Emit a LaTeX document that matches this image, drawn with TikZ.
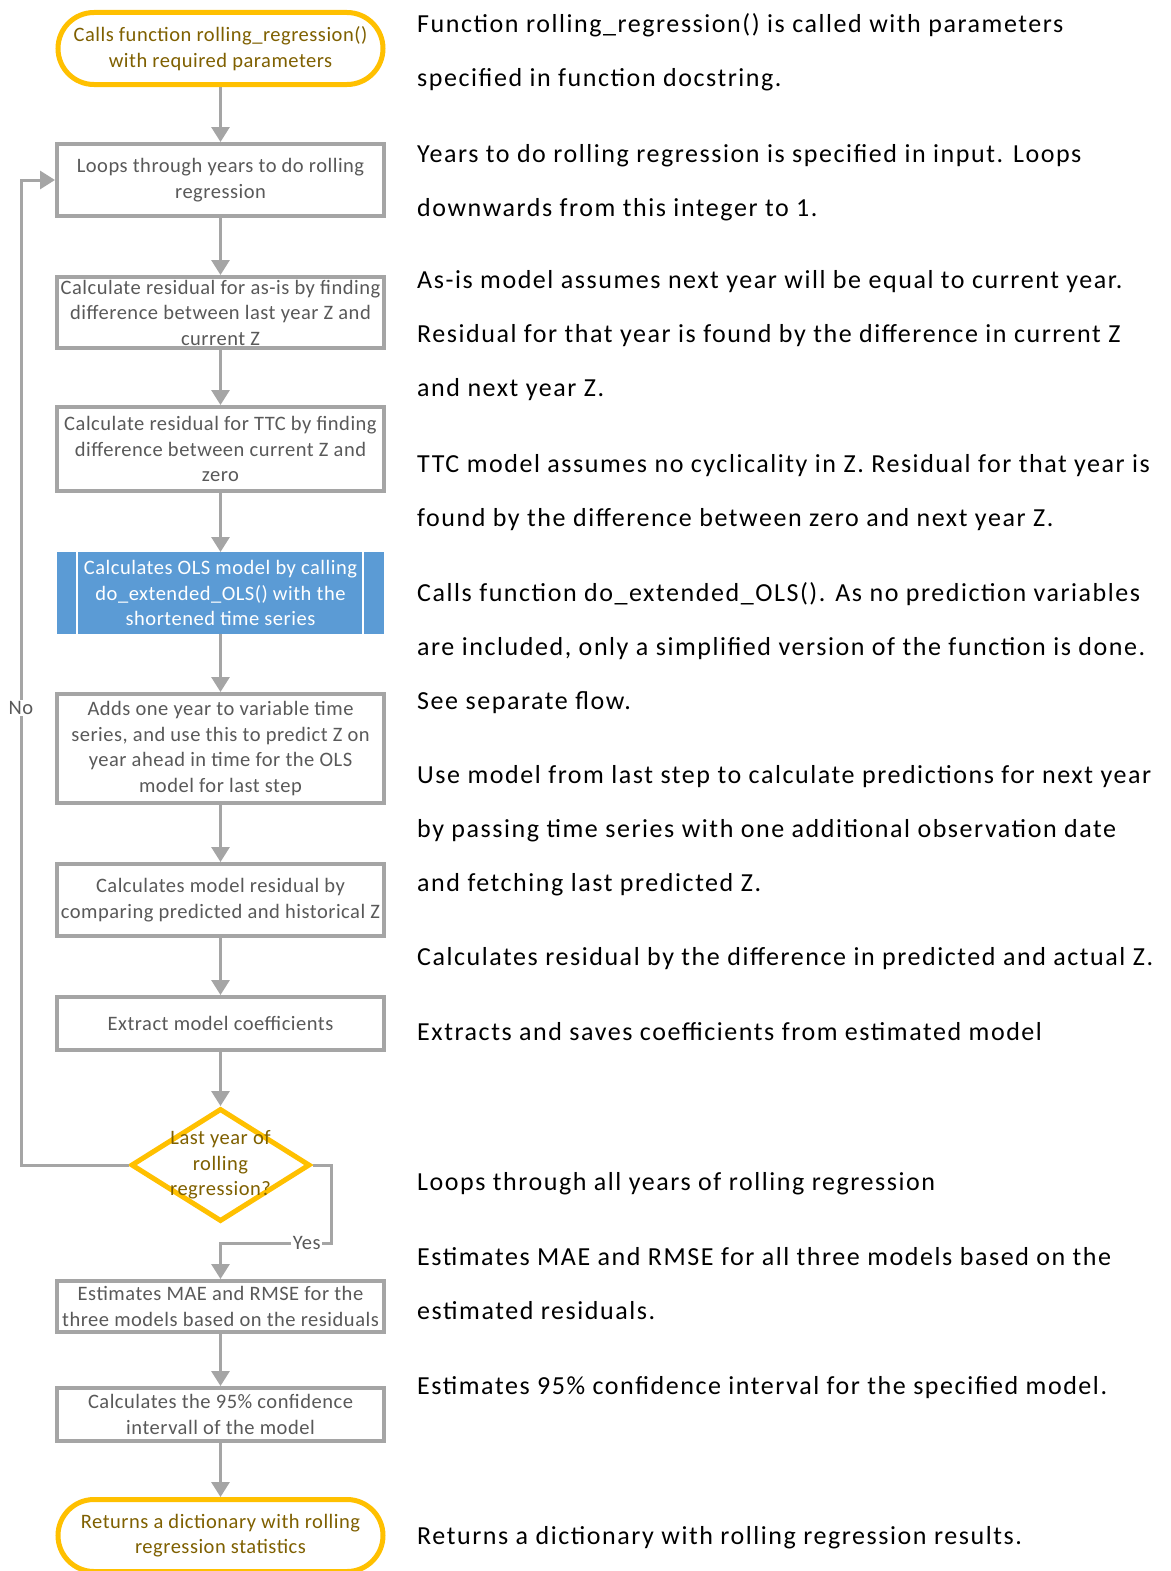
\documentclass[tikz,border=0pt]{standalone}
\usepackage{fontspec}
\setmainfont{Carlito}
\newfontfamily\boxfam[LetterSpace=2.5]{Carlito}
\newfontfamily\sidefam[LetterSpace=6]{Carlito}
\usetikzlibrary{shapes.geometric,arrows.meta,calc}
\definecolor{boxgray}{HTML}{A5A5A5}
\definecolor{txtgray}{HTML}{595959}
\definecolor{gold}{HTML}{FFC000}
\definecolor{goldtxt}{HTML}{7F6000}
\definecolor{olsblue}{HTML}{5B9BD5}
\newcommand{\boxfont}{\boxfam\fontsize{20.5}{25.5}\selectfont}
\newcommand{\sidefont}{\sidefam\fontsize{26}{54}\selectfont}
\newcommand{\side}[1]{\parbox[t]{760pt}{\raggedright #1}}
\begin{document}
\begin{tikzpicture}[x=1pt,y=-1pt,
  procbox/.style={draw=boxgray, line width=4pt, fill=white, minimum width=327pt,
    text=txtgray, align=center, inner sep=0pt, font=\boxfont},
  olsbox/.style={fill=olsblue, draw=none, outer sep=0pt, minimum width=327pt, minimum height=82pt,
    text=white, align=center, inner sep=0pt, font=\boxfont},
  term/.style={draw=gold, line width=5pt, rounded corners=36pt, minimum width=325pt,
    minimum height=72pt, text=goldtxt, align=center, inner sep=0pt, font=\boxfont, fill=white},
  decision/.style={diamond, draw=gold, line width=5pt, fill=white, minimum width=179pt,
    minimum height=113pt, inner sep=0pt},
  dectext/.style={text=goldtxt, align=center, font=\boxfont, inner sep=0pt},
  conn/.style={draw=boxgray, line width=3pt, -{Triangle[width=18pt,length=15pt]}},
  lbl/.style={text=txtgray, fill=white, font=\boxfont, inner sep=1.5pt},
  sidetext/.style={anchor=base west, inner sep=0pt, font=\sidefont, text=black}
]
\useasboundingbox (0,0) rectangle (1170,1571);
\fill[white] (0,0) rectangle (1170,1571);

% flow nodes
\node[term] (t1) at (220.5,48.5) {Calls function rolling\_regression()\\with required parameters};
\node[procbox, minimum height=72pt] (b1) at (220.5,180) {Loops through years to do rolling\\regression};
\node[procbox, minimum height=71pt] (b2) at (220.5,312.5) {Calculate residual for as-is by finding\\difference between last year Z and\\current Z};
\node[procbox, minimum height=84pt] (b3) at (220.5,449) {Calculate residual for TTC by finding\\difference between current Z and\\zero};
\node[olsbox] (ols) at (220.5,593) {Calculates OLS model by calling\\do\_extended\_OLS() with the\\shortened time series};
\draw[white, line width=2pt] ($(ols.north west)+(20,0)$) -- ($(ols.south west)+(20,0)$);
\draw[white, line width=2pt] ($(ols.north east)+(-21,0)$) -- ($(ols.south east)+(-21,0)$);
\node[procbox, minimum height=109pt] (b4) at (220.5,748.5) {Adds one year to variable time\\series, and use this to predict Z on\\year ahead in time for the OLS\\model for last step};
\node[procbox, minimum height=72pt] (b5) at (220.5,900) {Calculates model residual by\\comparing predicted and historical Z};
\node[procbox, minimum height=53pt] (b6) at (220.5,1023.5) {Extract model coefficients};
\node[decision] (dec) at (220.5,1165) {};
\node[dectext] (dect) at (dec.center) {Last year of\\rolling\\regression?};
\node[procbox, minimum height=51pt] (b7) at (220.5,1306.5) {Estimates MAE and RMSE for the\\three models based on the residuals};
\node[procbox, minimum height=53pt] (b8) at (220.5,1414.5) {Calculates the 95\% confidence\\intervall of the model};
\node[term] (t2) at (220.5,1535.5) {Returns a dictionary with rolling\\regression statistics};

% connectors
\draw[conn] (t1) -- (b1);
\draw[conn] (b1) -- (b2);
\draw[conn] (b2) -- (b3);
\draw[conn] (b3) -- (ols);
\draw[conn] (ols) -- (b4);
\draw[conn] (b4) -- (b5);
\draw[conn] (b5) -- (b6);
\draw[conn] (b6) -- (dec);
\coordinate (noturn) at (21,1165);
\coordinate (yesturn) at (331,1243);
\draw[conn] (dec.west) -- (noturn) |- (b1.west) node[lbl, pos=0.232] {No};
\draw[conn] (dec.east) -| (yesturn) -| (b7.north) node[lbl, pos=0.11] {Yes};
\draw[conn] (b7) -- (b8);
\draw[conn] (b8) -- (t2);

% side descriptions
\node[sidetext] (r1) at (417,33) {\side{Function rolling\_regression() is called with parameters\\specified in function docstring.}};
\node[sidetext] (r2) at (417,162) {\side{Years to do rolling regression is specified in input. Loops\\downwards from this integer to 1.}};
\node[sidetext] (r3) at (417,288) {\side{As-is model assumes next year will be equal to current year.\\Residual for that year is found by the difference in current Z\\and next year Z.}};
\node[sidetext] (r4) at (417,472) {\side{TTC model assumes no cyclicality in Z. Residual for that year is\\found by the difference between zero and next year Z.}};
\node[sidetext] (r5) at (417,601) {\side{Calls function do\_extended\_OLS(). As no prediction variables\\are included, only a simplified version of the function is done.\\See separate flow.}};
\node[sidetext] (r6) at (417,783) {\side{Use model from last step to calculate predictions for next year\\by passing time series with one additional observation date\\and fetching last predicted Z.}};
\node[sidetext] (r7) at (417,965) {\side{Calculates residual by the difference in predicted and actual Z.}};
\node[sidetext] (r8) at (417,1040) {\side{Extracts and saves coefficients from estimated model}};
\node[sidetext] (r9) at (417,1190) {\side{Loops through all years of rolling regression}};
\node[sidetext] (r10) at (417,1265) {\side{Estimates MAE and RMSE for all three models based on the\\estimated residuals.}};
\node[sidetext] (r11) at (417,1394) {\side{Estimates 95\% confidence interval for the specified model.}};
\node[sidetext] (r12) at (417,1544) {\side{Returns a dictionary with rolling regression results.}};
\end{tikzpicture}
\end{document}
